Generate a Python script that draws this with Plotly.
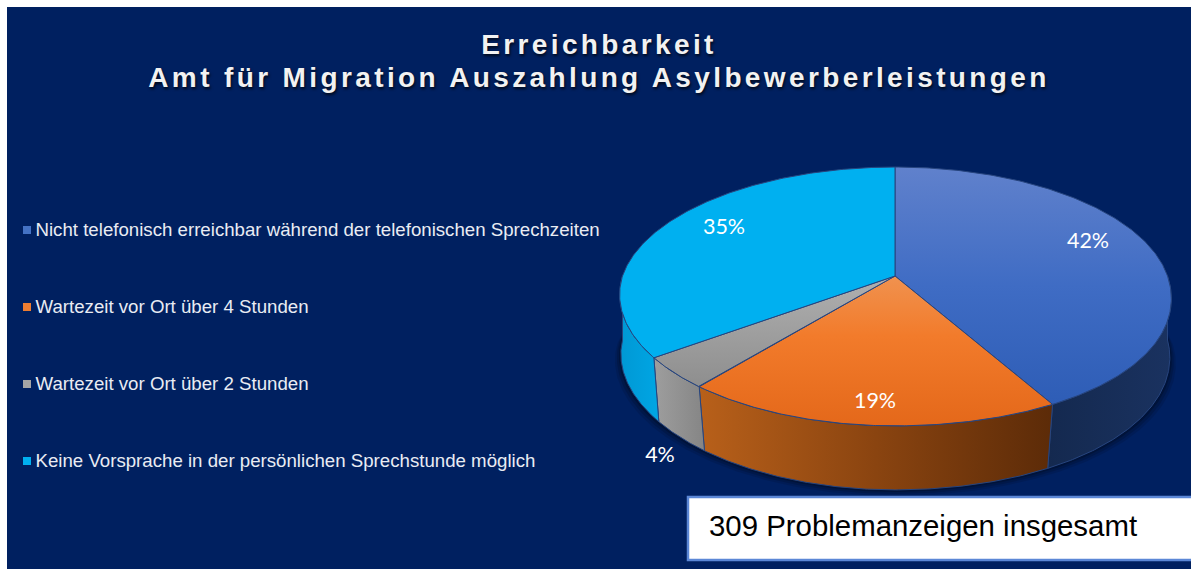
import numpy as np
import plotly.graph_objects as go

# ---- data ----
categories = [
    "Nicht telefonisch erreichbar während der telefonischen Sprechzeiten",
    "Wartezeit vor Ort über 4 Stunden",
    "Wartezeit vor Ort über 2 Stunden",
    "Keine Vorsprache in der persönlichen Sprechstunde möglich",
]
values = [42, 19, 4, 35]
title_text = "Erreichbarkeit<br>Amt für Migration Auszahlung Asylbewerberleistungen"
note_text = "309 Problemanzeigen insgesamt"

# ---- style / layout ----
W, H = 1191, 569
NAVY = "#002060"
legend_colors = ["#4472C4", "#ED7D31", "#A5A5A5", "#00B0F0"]
top_scales = [
    [[0, "#6081CC"], [0.5, "#3F6CC4"], [1, "#2E5DB6"]],
    [[0, "#F0924F"], [0.4, "#F27B2B"], [1, "#E4681A"]],
    [[0, "#B0B0B0"], [1, "#8E8E8E"]],
    [[0, "#00B0F0"], [1, "#00B0F0"]],
]
wall_scales = [
    [[0, "#14294F"], [1, "#1A3260"]],
    [[0, "#B8601A"], [0.5, "#8A4410"], [1, "#5C2B08"]],
    [[0, "#9E9E9E"], [1, "#858585"]],
    [[0, "#0098D4"], [1, "#00A6E4"]],
]
EDGE = "#27457F"
CX, APEX_Y = 895, 276
A, B, K = 272.5, 126.2, 0.158   # perspective of the tilted disc
DEPTH = 64


def project(theta):
    s, c = np.sin(theta), np.cos(theta)
    d = 1 + K * c
    X = A * s / d
    # small correction of the lower half towards the drawn perspective
    X = X + np.where(c < 0, np.where(s > 0, 14 * s * c * c, 4 * s * c), 0)
    return X, -B * c / d


def top_arc(t0, t1, n=120):
    X, Y = project(np.linspace(t0, t1, n))
    return CX + X, APEX_Y + Y


def low_arc(t0, t1, n=120):
    th = np.linspace(t0, t1, n)
    X, Y = project(th)
    shrink = 1 + 0.035 * np.minimum(np.cos(th), 0)
    return CX + shrink * X, APEX_Y + Y + DEPTH


fig = go.Figure()

edges = np.cumsum([0] + values) / sum(values) * 2 * np.pi

# soft shadow under the disc
for grow, op in [(6, 0.10), (4, 0.14), (2, 0.2)]:
    xb, yb = low_arc(np.pi / 2 - 0.3, 3 * np.pi / 2 + 0.3, 240)
    fig.add_trace(go.Scatter(
        x=CX + (xb - CX) * (1 + grow / 276), y=yb + grow, mode="lines",
        fill="toself", fillcolor=f"rgba(0,0,0,{op})", line=dict(width=0),
        hoverinfo="skip", showlegend=False))

# walls of the front half
VIS0, VIS1 = np.pi / 2, 3 * np.pi / 2
for i in range(len(values)):
    t0, t1 = max(edges[i], VIS0), min(edges[i + 1], VIS1)
    if t1 <= t0:
        continue
    xt, yt = top_arc(t0, t1)
    xl, yl = low_arc(t0, t1)
    xs = np.concatenate([xt, xl[::-1], xt[:1]])
    ys = np.concatenate([yt, yl[::-1], yt[:1]])
    fig.add_trace(go.Scatter(
        x=xs, y=ys, mode="lines", fill="toself",
        fillgradient=dict(type="horizontal", colorscale=wall_scales[i],
                          start=float(xs.min()), stop=float(xs.max())),
        line=dict(color=EDGE, width=1), hoverinfo="skip", showlegend=False))

# top faces
for i, cat in enumerate(categories):
    xt, yt = top_arc(edges[i], edges[i + 1], 200)
    xs = np.concatenate([[CX], xt, [CX]])
    ys = np.concatenate([[APEX_Y], yt, [APEX_Y]])
    fig.add_trace(go.Scatter(
        x=xs, y=ys, mode="lines", fill="toself",
        fillgradient=dict(type="vertical", colorscale=top_scales[i],
                          start=float(ys.min()), stop=float(ys.max())),
        line=dict(color=EDGE, width=1), name=cat, hoverinfo="skip", showlegend=False))

# percentage labels
label_x = [1088, 875, 660, 724]
label_y = [243, 403, 457, 229]
fig.add_trace(go.Scatter(
    x=label_x, y=label_y, mode="text",
    text=[f"{round(v / sum(values) * 100)}%" for v in values],
    textfont=dict(family="Lato", size=21.5, color="#FFFFFF"),
    textposition="middle center", hoverinfo="skip", showlegend=False))

# legend column
legend_y = [231, 308, 385, 462]
fig.add_trace(go.Scatter(
    x=[27] * 4, y=[230, 307, 384, 461], mode="markers",
    marker=dict(symbol="square", size=8, color=legend_colors, line=dict(width=0)),
    hoverinfo="skip", showlegend=False))
fig.add_trace(go.Scatter(
    x=[35.5] * 4, y=legend_y, mode="text", text=categories,
    textposition="middle right",
    textfont=dict(family="Liberation Sans", size=18.66, color="#E9ECF3"),
    hoverinfo="skip", showlegend=False))

fig.update_layout(
    width=W, height=H, margin=dict(l=0, r=0, t=0, b=0),
    paper_bgcolor="#FFFFFF", plot_bgcolor=NAVY,
    xaxis=dict(range=[0, W], visible=False, fixedrange=True),
    yaxis=dict(range=[H, 0], visible=False, fixedrange=True),
    showlegend=False,
    title=dict(
        text=title_text, x=599 / W, xanchor="center", y=1 - 54 / H, yanchor="top",
        font=dict(family="Liberation Sans", size=28, color="#F2F2F2", weight="bold",
                  shadow="1px 2px 3px rgba(0,0,0,0.75)")),
    shapes=[
        dict(type="rect", x0=0, x1=7, y0=0, y1=H, fillcolor="#FFFFFF", line_width=0, layer="above"),
        dict(type="rect", x0=0, x1=W, y0=0, y1=7, fillcolor="#FFFFFF", line_width=0, layer="above"),
        dict(type="rect", x0=688, x1=W + 5, y0=497, y1=560, fillcolor="#FFFFFF",
             line=dict(color="#5B87D6", width=2.5), layer="above"),
    ],
    annotations=[dict(
        x=707, y=525, xref="x", yref="y", xanchor="left", yanchor="middle",
        text=note_text, showarrow=False,
        font=dict(family="Liberation Sans", size=29.4, color="#000000"))],
)

post = """
document.body.style.margin = '0';
document.documentElement.style.overflow = 'hidden';
document.querySelectorAll('.gtitle').forEach(function (t) {
  t.style.letterSpacing = '3.38px';
  t.querySelectorAll('tspan.line').forEach(function (l, i) { if (i > 0) l.setAttribute('dy', '33px'); });
});
"""
fig.write_html("out.html", post_script=post, config=dict(displayModeBar=False))
